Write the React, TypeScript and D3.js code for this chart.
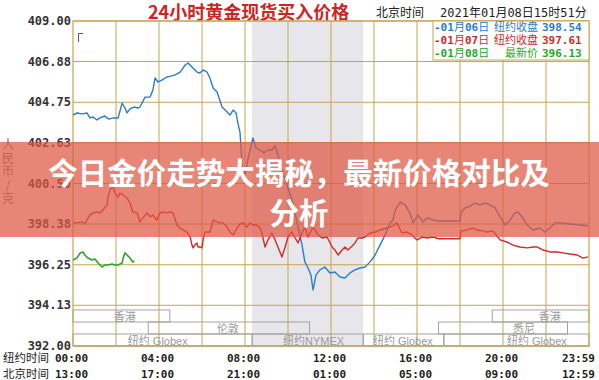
import React from 'react';
import * as d3 from 'd3';

// ---------- data ----------
const yTickLabels = ['409.00', '406.88', '404.75', '402.63', '400.50', '398.38', '396.25', '394.13', '392.00'];
const nyTickLabels = ['00:00', '04:00', '08:00', '12:00', '16:00', '20:00', '23:59'];
const bjTickLabels = ['13:00', '17:00', '21:00', '01:00', '05:00', '09:00', '12:59'];
const tickMinutes = [0, 240, 480, 720, 960, 1200, 1439];

const blueTimes = [0, 11, 25, 39, 47, 56, 67, 75, 89, 100, 112, 126, 137, 145, 151, 159, 170, 181, 187, 201, 215, 223, 229, 237, 248, 262, 273, 285, 299, 313, 321, 332, 346, 354, 363, 374, 382, 391, 402, 416, 430, 438, 447, 455, 460, 466, 472, 480, 488, 502, 511, 522, 533, 544, 555, 564, 572, 583, 597, 611, 625, 639, 647, 656, 664, 670, 678, 689, 703, 717, 731, 745, 759, 773, 787, 801, 815, 829, 843, 857, 871, 885, 893, 899, 913, 927, 940, 949, 963, 977, 988, 1005, 1020, 1080, 1083, 1094, 1108, 1122, 1136, 1150, 1164, 1178, 1192, 1206, 1220, 1233, 1242, 1253, 1267, 1284, 1303, 1317, 1331, 1345, 1359, 1387, 1415, 1437];
const blueValues = [404.08, 404.19, 404.14, 404.19, 403.93, 403.98, 403.82, 403.93, 404.03, 403.87, 403.93, 403.93, 404.71, 404.45, 404.19, 404.40, 404.50, 404.45, 404.50, 405.02, 405.02, 405.39, 406.02, 405.81, 405.91, 406.07, 406.12, 406.18, 406.33, 406.70, 406.80, 406.59, 406.33, 406.28, 406.44, 406.33, 406.02, 405.50, 405.29, 404.50, 404.24, 404.08, 404.34, 404.19, 403.67, 403.19, 401.47, 400.95, 401.73, 402.88, 402.36, 402.25, 402.10, 402.25, 402.25, 402.46, 401.99, 401.21, 400.42, 399.64, 398.49, 397.29, 396.40, 396.08, 395.71, 394.93, 395.71, 395.98, 396.13, 395.82, 395.87, 395.61, 395.56, 395.82, 395.98, 396.08, 396.13, 396.40, 396.76, 397.29, 397.81, 398.44, 398.59, 399.11, 399.53, 399.38, 398.96, 398.44, 398.85, 398.49, 398.70, 398.59, 398.54, 398.54, 399.01, 399.22, 399.32, 399.48, 399.38, 399.48, 399.38, 399.22, 398.75, 398.33, 398.59, 398.96, 399.01, 398.75, 398.33, 398.07, 398.17, 397.96, 398.17, 398.44, 398.44, 398.38, 398.33, 398.28];

const redTimes = [0, 11, 25, 33, 39, 47, 56, 67, 75, 84, 95, 98, 103, 109, 112, 117, 126, 131, 140, 151, 159, 167, 179, 187, 195, 207, 215, 223, 234, 243, 251, 262, 271, 279, 290, 299, 307, 318, 327, 332, 335, 340, 346, 349, 354, 360, 363, 368, 374, 382, 391, 402, 410, 419, 430, 438, 447, 458, 466, 474, 486, 494, 502, 513, 522, 527, 536, 544, 555, 564, 572, 583, 592, 600, 611, 620, 628, 639, 647, 656, 670, 684, 695, 709, 723, 731, 740, 751, 759, 767, 779, 787, 795, 807, 815, 829, 843, 857, 876, 893, 904, 918, 932, 946, 960, 974, 988, 1005, 1020, 1080, 1083, 1100, 1116, 1127, 1144, 1155, 1172, 1192, 1211, 1228, 1247, 1267, 1284, 1295, 1312, 1331, 1351, 1367, 1387, 1407, 1423, 1437];
const redValues = [398.44, 398.44, 398.49, 398.38, 398.59, 398.85, 398.96, 399.01, 398.96, 399.12, 399.38, 399.79, 400.16, 400.32, 400.27, 400.00, 399.79, 400.00, 399.90, 399.74, 399.48, 399.01, 398.96, 398.49, 398.70, 398.96, 398.75, 398.85, 398.59, 398.96, 399.01, 398.96, 399.01, 398.96, 398.33, 398.17, 398.07, 397.96, 397.70, 397.28, 397.13, 397.28, 397.39, 397.18, 397.18, 397.13, 397.55, 397.96, 397.96, 397.96, 398.59, 398.49, 398.44, 398.44, 398.23, 397.96, 397.81, 398.17, 398.38, 398.44, 398.23, 398.44, 398.33, 398.33, 398.17, 397.91, 397.18, 397.55, 397.91, 397.55, 397.18, 396.66, 397.18, 397.70, 397.96, 397.65, 397.39, 397.91, 398.23, 397.70, 398.23, 397.81, 397.65, 397.70, 397.18, 397.02, 396.76, 397.02, 397.18, 397.02, 397.23, 397.39, 397.65, 397.65, 397.70, 397.91, 397.96, 398.07, 398.17, 398.28, 398.44, 397.91, 397.96, 397.81, 397.55, 397.70, 397.65, 397.70, 397.61, 397.61, 398.02, 398.07, 398.17, 398.07, 398.02, 397.96, 398.02, 397.55, 397.44, 397.28, 397.18, 397.13, 397.18, 397.18, 397.02, 396.92, 396.92, 396.87, 396.81, 396.76, 396.60, 396.66];

const greenTimes = [0, 11, 20, 28, 33, 42, 53, 61, 70, 81, 89, 98, 109, 117, 126, 137, 140, 145, 151, 159, 167, 171];
const greenValues = [396.50, 396.60, 396.87, 396.92, 396.76, 396.60, 396.50, 396.55, 396.34, 396.13, 396.24, 396.24, 396.29, 396.24, 396.24, 396.34, 396.60, 396.87, 396.76, 396.60, 396.39, 396.45];

const sessionNames = ['香港', '伦敦', '纽约 Globex', '纽约NYMEX', '纽约 Globex', '纽约 Globex', '香港', '悉尼'];
const sessionStart = [0, 210, 0, 500, 810, 1035, 1170, 1020];
const sessionEnd = [270, 660, 500, 810, 1035, 1440, 1440, 1380];
const sessionRow = [0, 1, 2, 2, 2, 2, 0, 1];
const sessionLabelAt = [114, 402, 153, 586, 837, 1211, 1300, 1228];

const nymexBand = [500, 810];

const legendDates = ['-01月06日', '-01月07日', '-01月08日'];
const legendNames = ['纽约收盘', '纽约收盘', '最新价'];
const legendValues = ['398.54', '397.61', '396.13'];

const unitChars = ['人', '民', '币', '/', '克'];
const titleText = '24小时黄金现货买入价格';
const bannerLines = ['今日金价走势大揭秘，最新价格对比及', '分析'];

// ---------- layout ----------
const W = 599;
const H = 380;
const L = 73, R = 589, T = 21, B = 346;
const GRID = '#c6a54e';
const BLUE = '#2a7ccf';
const RED = '#cf2a2a';
const GREEN = '#2aa62a';
const MONO = "'DejaVu Sans Mono', monospace";
const CJK = "'Noto Sans CJK SC', 'Noto Sans', sans-serif";
const SANS = "'Liberation Sans', 'Noto Sans CJK SC', sans-serif";

export default function App() {
  const x = d3.scaleLinear().domain([0, 1440]).range([L, R]);
  const y = d3.scaleLinear().domain([392, 409]).range([B, T]);
  const line = d3.line<[number, number]>().x(d => x(d[0])).y(d => y(d[1]));
  const mk = (t: number[], v: number[]) => line(t.map((tt, i) => [tt, v[i]] as [number, number])) || '';

  const gridMinutes = d3.range(120, 1440, 120);
  const rowTop = [310, 322, 334];
  const rowBottom = [322, 334, 346];
  const legendColors = [BLUE, RED, GREEN];

  return (
    <svg width={W} height={H} style={{ position: 'absolute', left: 0, top: 0, background: '#fff' }}>
      <rect x={0} y={0} width={W} height={H} fill="#fff" />
      {/* title */}
      <text x={148} y={18.5} fontFamily={CJK} fontWeight={700} fontSize={18} fill="#d02424">{titleText}</text>
      <text x={376} y={17} fontFamily={CJK} fontSize={12} fill="#222">北京时间</text>
      <text x={440} y={17} fontFamily={MONO} fontSize={12} fill="#222">
        <tspan>2021</tspan><tspan fontFamily={CJK}>年</tspan><tspan>01</tspan><tspan fontFamily={CJK}>月</tspan><tspan>08</tspan><tspan fontFamily={CJK}>日</tspan><tspan>15</tspan><tspan fontFamily={CJK}>时</tspan><tspan>51</tspan><tspan fontFamily={CJK}>分</tspan>
      </text>

      {/* plot background and NYMEX band */}
      <rect x={L} y={T} width={R - L} height={B - T} fill="#fff" />
      <rect x={x(nymexBand[0])} y={T} width={x(nymexBand[1]) - x(nymexBand[0])} height={B - T} fill="#e7e7eb" />

      {/* grid */}
      {gridMinutes.map(m => (
        <line key={'v' + m} x1={x(m)} x2={x(m)} y1={T} y2={B} stroke={GRID} strokeWidth={1} />
      ))}
      {yTickLabels.map(l => (
        <line key={'h' + l} x1={L} x2={R} y1={y(+l)} y2={y(+l)} stroke={GRID} strokeWidth={1} />
      ))}

      {/* sessions */}
      {sessionNames.map((n, i) => (
        <g key={'s' + i}>
          <rect x={x(sessionStart[i])} y={rowTop[sessionRow[i]]} width={x(sessionEnd[i]) - x(sessionStart[i])}
            height={rowBottom[sessionRow[i]] - rowTop[sessionRow[i]]} fill="none" stroke="#a3a3a3" strokeWidth={1} />
          <text x={x(sessionLabelAt[i])} y={rowBottom[sessionRow[i]] - 1.5} fontFamily={SANS} fontSize={11} fill="#9a9a9a">{n}</text>
        </g>
      ))}

      <rect x={L} y={T} width={R - L} height={B - T} fill="none" stroke={GRID} strokeWidth={1.2} />

      {/* corner mark */}
      <path d="M78.5,42 V33.5 H83" fill="none" stroke="#555" strokeWidth={1} />

      {/* series */}
      <path d={mk(blueTimes, blueValues)} fill="none" stroke={BLUE} strokeWidth={1.4} strokeLinejoin="round" />
      <path d={mk(redTimes, redValues)} fill="none" stroke={RED} strokeWidth={1.4} strokeLinejoin="round" />
      <path d={mk(greenTimes, greenValues)} fill="none" stroke={GREEN} strokeWidth={1.6} strokeLinejoin="round" />

      {/* legend */}
      <rect x={433} y={T} width={R - 433} height={39} fill="#fff" stroke={GRID} strokeWidth={1} />
      {legendDates.map((d, i) => (
        <g key={'lg' + i} fill={legendColors[i]}>
          <text x={434} y={31 + i * 13} fontFamily={MONO} fontWeight={700} fontSize={11}>
            <tspan>{d.slice(0, 3)}</tspan><tspan fontFamily={CJK} fontWeight={400}>月</tspan><tspan>{d.slice(4, 6)}</tspan><tspan fontFamily={CJK} fontWeight={400}>日</tspan>
          </text>
          <text x={538} y={31 + i * 13} textAnchor="end" fontFamily={CJK} fontSize={11}>{legendNames[i]}</text>
          <text x={542} y={31 + i * 13} fontFamily={MONO} fontWeight={700} fontSize={11}>{legendValues[i]}</text>
        </g>
      ))}

      {/* y axis labels */}
      {yTickLabels.map(l => (
        <text key={'yl' + l} x={71} y={y(+l) + 4} textAnchor="end" fontFamily={MONO} fontWeight={700} fontSize={12} fill="#333">{l}</text>
      ))}
      <text x={8} y={149} textAnchor="middle" fontFamily={CJK} fontSize={12.5} fill="#8a7b72">
        {unitChars.map((c, i) => (
          <tspan key={'u' + i} x={8} dy={i === 0 ? 0 : 13.5}>{c}</tspan>
        ))}
      </text>

      {/* x axis labels */}
      <text x={3} y={362} fontFamily={CJK} fontSize={11.5} fill="#222">纽约时间</text>
      <text x={3} y={378} fontFamily={CJK} fontSize={11.5} fill="#222">北京时间</text>
      {tickMinutes.map((m, i) => {
        const last = i === tickMinutes.length - 1;
        return (
          <g key={'xt' + i}>
            <text x={last ? 595 : x(m) - 1.5} y={362} textAnchor={last ? 'end' : 'middle'} fontFamily={MONO} fontWeight={700} fontSize={11} fill="#222">{nyTickLabels[i]}</text>
            <text x={last ? 595 : x(m) - 1.5} y={378} textAnchor={last ? 'end' : 'middle'} fontFamily={MONO} fontWeight={700} fontSize={11} fill="#222">{bjTickLabels[i]}</text>
          </g>
        );
      })}

      {/* banner overlay */}
      <rect x={0} y={142} width={W} height={95} fill="rgb(222,88,66)" fillOpacity={0.72} />
      {bannerLines.map((t, i) => (
        <text key={'b' + i} x={299} y={184 + i * 40} textAnchor="middle" fontFamily={CJK} fontWeight={700} fontSize={29.5} fill="#fff">{t}</text>
      ))}
    </svg>
  );
}
